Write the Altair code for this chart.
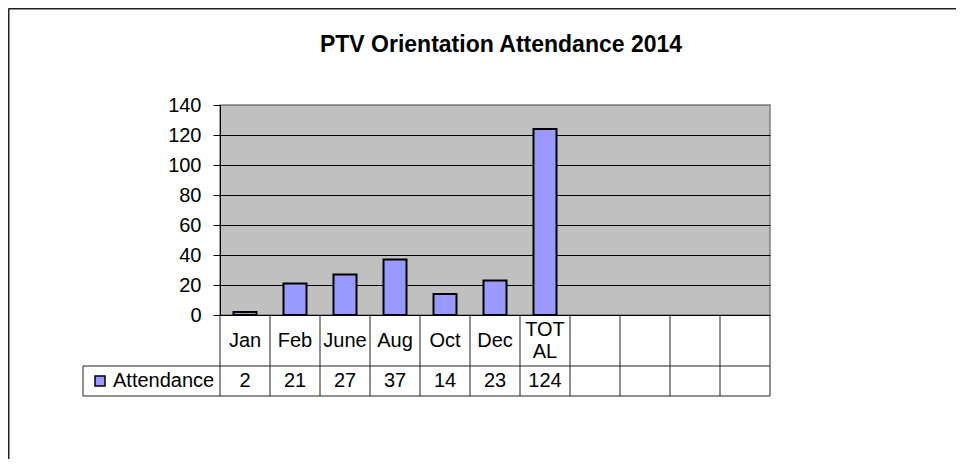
import altair as alt
import pandas as pd

# ---- data ----
CATEGORIES = ["Jan", "Feb", "June", "Aug", "Oct", "Dec", "TOT\nAL", "", "", "", ""]
VALUES = [2, 21, 27, 37, 14, 23, 124, None, None, None, None]
SERIES = "Attendance"
Y_TICKS = [0, 20, 40, 60, 80, 100, 120, 140]
TITLE = "PTV Orientation Attendance 2014"

# ---- layout constants (in data units of the chart scales) ----
N = len(CATEGORIES)
BAR_FRACTION = 0.46
LEGEND_LEFT = -2.74      # left edge of the legend cell of the data table
ROW1_BOTTOM = -34        # bottom of the category-name row
ROW2_BOTTOM = -54        # bottom of the value row
FRAME_LEFT, FRAME_TOP, FRAME_RIGHT, FRAME_BOTTOM = -4.23, 204.3, 16, -120

FONT = "Liberation Sans, Arial, sans-serif"
LINE_H = 22

bars_df = pd.DataFrame({
    "idx": list(range(N)),
    "category": CATEGORIES,
    "value": VALUES,
    "series": [SERIES] * N,
})
bars_df["x0"] = bars_df["idx"] + (1 - BAR_FRACTION) / 2
bars_df["x1"] = bars_df["idx"] + (1 + BAR_FRACTION) / 2
bars_df["xc"] = bars_df["idx"] + 0.5
bars_df["base"] = 0
bars_df["vtext"] = [("" if v is None else str(v)) for v in VALUES]
bars_df["multi"] = ["\n" in c for c in CATEGORIES]
bars_df["row1"] = (0 + ROW1_BOTTOM) / 2
bars_df["row2"] = (ROW1_BOTTOM + ROW2_BOTTOM) / 2
valid = bars_df.dropna(subset=["value"])

# table grid segments
segs = []
for yv in [ROW1_BOTTOM, ROW2_BOTTOM]:
    segs.append({"x": LEGEND_LEFT, "x2": N, "y": yv, "y2": yv})
for k in range(N + 1):
    segs.append({"x": k, "x2": k, "y": 0, "y2": ROW2_BOTTOM})
segs.append({"x": LEGEND_LEFT, "x2": LEGEND_LEFT, "y": ROW1_BOTTOM, "y2": ROW2_BOTTOM})
segs_df = pd.DataFrame(segs)

frame_df = pd.DataFrame([
    {"x": FRAME_LEFT, "x2": FRAME_RIGHT, "y": FRAME_TOP, "y2": FRAME_TOP},
    {"x": FRAME_LEFT, "x2": FRAME_LEFT, "y": FRAME_TOP, "y2": FRAME_BOTTOM},
])

xs = alt.Scale(domain=[0, N], nice=False, zero=False, padding=0)
ys = alt.Scale(domain=[0, 140], nice=False, zero=False, padding=0)

y_axis = alt.Axis(
    values=Y_TICKS, title=None, grid=True, labelOverlap=False,
    gridColor={"condition": {"test": "datum.value === 140", "value": "#808080"}, "value": "black"},
    gridWidth=1, domainColor="black", domainWidth=1, tickColor="black", tickSize=7,
    labelFont=FONT, labelFontSize=20, labelColor="black", labelPadding=12,
)

X = lambda f: alt.X(f, scale=xs, axis=None)
Y = lambda f: alt.Y(f, scale=ys, axis=y_axis)

bars = alt.Chart(valid).mark_rect(stroke="black", strokeWidth=2).encode(
    x=X("x0:Q"),
    x2="x1:Q",
    y=Y("value:Q"),
    y2="base:Q",
    color=alt.Color(
        "series:N",
        scale=alt.Scale(range=["#9999FF"]),
        legend=alt.Legend(
            title=None, orient="none", legendX=-130, legendY=266, padding=0,
            symbolType="square", symbolSize=100, symbolStrokeColor="black",
            symbolStrokeWidth=1.5, symbolOpacity=1, labelFont=FONT, labelFontSize=20,
            labelColor="black", labelOffset=3,
        ),
    ),
)

def seg_layer(df, color, width):
    return alt.Chart(df).mark_rule(color=color, strokeWidth=width).encode(
        x=X("x:Q"), x2="x2:Q", y=Y("y:Q"), y2="y2:Q",
    )

grid_lines = seg_layer(segs_df, "#222222", 1)
frame = seg_layer(frame_df, "#222222", 2)

cat_single = alt.Chart(bars_df).transform_filter("!datum.multi").mark_text(
    font=FONT, fontSize=20, color="black", baseline="middle"
).encode(x=X("xc:Q"), y=Y("row1:Q"), text="category:N")

cat_multi = alt.Chart(bars_df).transform_filter("datum.multi").mark_text(
    font=FONT, fontSize=20, color="black", baseline="middle",
    lineBreak="\n", lineHeight=LINE_H, dy=-LINE_H / 2,
).encode(x=X("xc:Q"), y=Y("row1:Q"), text="category:N")

val_text = alt.Chart(bars_df).mark_text(
    font=FONT, fontSize=20, color="black", baseline="middle"
).encode(x=X("xc:Q"), y=Y("row2:Q"), text="vtext:N")

chart = alt.layer(bars, grid_lines, cat_single, cat_multi, val_text, frame).properties(
    width=550, height=210,
    title=alt.TitleParams(
        TITLE, font=FONT, fontSize=23, fontWeight="bold", color="black",
        anchor="middle", frame="group", baseline="alphabetic", offset=-67, dx=6,
    ),
    autosize=alt.AutoSizeParams(type="none"),
    padding={"left": 212, "top": 97, "right": 186, "bottom": 144},
    background="white",
).configure_view(fill="#C0C0C0", stroke="#808080", strokeWidth=1.5)

chart.save("out.html", embed_options={"renderer": "svg", "actions": False})
